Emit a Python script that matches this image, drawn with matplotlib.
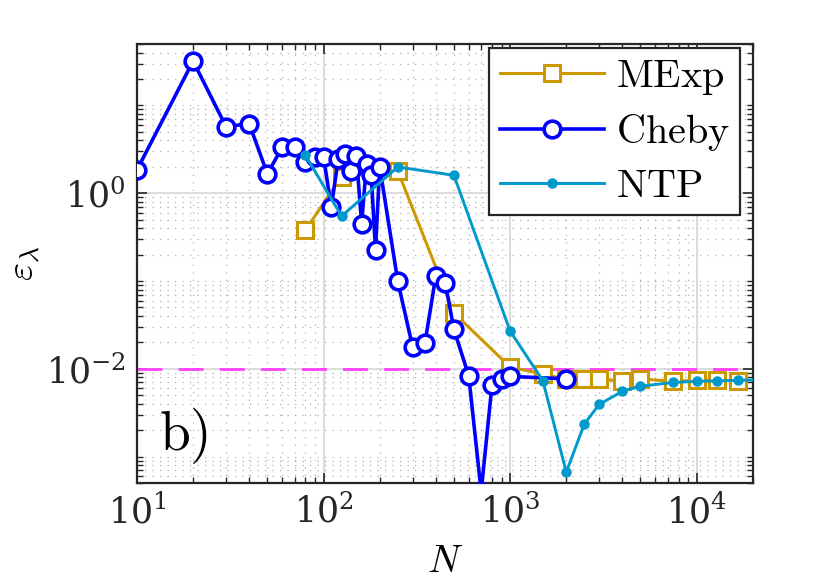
import numpy as np
import matplotlib
matplotlib.use("Agg")
import matplotlib.pyplot as plt
from matplotlib.ticker import LogLocator, NullFormatter, FixedLocator

plt.rcParams["mathtext.fontset"] = "cm"
plt.rcParams["font.family"] = ["DejaVu Serif"]

# Cheby
n_cheby = [10, 20, 30, 40, 50, 60, 70, 80, 90, 100,
           110, 120, 130, 140, 150, 160, 170, 180, 190, 200,
           250, 300, 350, 400, 450, 500, 600, 700, 800, 900, 1000, 2000]
err_cheby = [1.84, 32.0, 5.75, 6.17, 1.66, 3.32, 3.32, 2.29, 2.61, 2.61,
             0.69, 2.45, 2.80, 1.78, 2.68, 0.45, 2.15, 1.63, 0.228, 2.01,
             0.0998, 0.0179, 0.0199, 0.1146, 0.094, 0.0281, 0.00837, 4e-4,
             0.0066, 0.00766, 0.0082, 0.0077]

# MExp
n_mexp = [80, 125, 250, 500, 1000, 1500, 2000, 2500, 3000, 4000, 5000,
          7500, 10000, 12900, 16600]
err_mexp = [0.38, 1.55, 1.80, 0.0433, 0.0105, 0.0087, 0.0076, 0.0077, 0.0076,
            0.0073, 0.0077, 0.0072, 0.0074, 0.0074, 0.0073]

# NTP
n_ntp = [80, 125, 250, 500, 1000, 1500, 2000, 2500, 3000, 4000, 5000,
         7500, 10000, 12900, 16600, 25000]
err_ntp = [2.70, 0.548, 1.99, 1.60, 0.027, 0.0073, 6.65e-4, 0.00235, 0.00393,
           0.00556, 0.00634, 0.0070, 0.00721, 0.0073, 0.0074, 0.0075]

tol = 1e-2

c_mexp = (0.8, 0.6, 0.0)
c_cheby = (0.0, 0.0, 1.0)
c_ntp = (0.0, 0.6, 0.8)

fig = plt.figure(figsize=(8.3, 5.87), dpi=100)
ax = fig.add_axes([0.165, 0.177, 0.742, 0.748])

ax.axhline(tol, color=(1.0, 0.25, 1.0), lw=2, ls=(0, (9, 5.8)), zorder=2)
ax.plot(n_mexp, err_mexp, "-s", color=c_mexp, lw=2.2, ms=11.5, mfc="white",
        mec=c_mexp, mew=2.2, label=r"$\mathrm{MExp}$", zorder=3)
ax.plot(n_cheby, err_cheby, "-o", color=c_cheby, lw=2.6, ms=12, mfc="white",
        mec=c_cheby, mew=2.6, label=r"$\mathrm{Cheby}$", zorder=4)
ax.plot(n_ntp, err_ntp, "-o", color=c_ntp, lw=2.1, ms=6.5, mfc=c_ntp, mec=c_ntp,
        label=r"$\mathrm{NTP}$", zorder=5)

ax.set_xscale("log")
ax.set_yscale("log")
ax.set_xlim(10, 2e4)
ax.set_ylim(5e-4, 50)

ax.xaxis.set_major_locator(FixedLocator([1e1, 1e2, 1e3, 1e4]))
ax.yaxis.set_major_locator(FixedLocator([1e-2, 1e0]))
ax.xaxis.set_minor_locator(LogLocator(base=10, subs=np.arange(1, 10), numticks=30))
ax.yaxis.set_minor_locator(LogLocator(base=10, subs=np.arange(1, 10), numticks=30))
ax.xaxis.set_minor_formatter(NullFormatter())
ax.yaxis.set_minor_formatter(NullFormatter())

ax.tick_params(which="both", direction="in", top=True, right=True,
               colors="#262626", labelcolor="#262626")
ax.tick_params(which="major", length=7, width=1.2, labelsize=25, pad=8)
ax.tick_params(which="minor", length=4, width=1.0)
for s in ax.spines.values():
    s.set_linewidth(1.6)
    s.set_color("#262626")

ax.grid(which="major", color="#d4d4d4", lw=1.2, ls="-")
ax.grid(which="minor", color="#b0b0b0", lw=0.9, ls=(0, (1, 5)))
ax.set_axisbelow(True)

ax.set_xlabel(r"$N$", fontsize=28, labelpad=9)
ax.set_ylabel(r"$\varepsilon_\lambda$", fontsize=28, labelpad=2)

ax.text(0.035, 0.075, r"$\mathrm{b)}$", transform=ax.transAxes, fontsize=40,
        color="k", ha="left", va="baseline")

leg = ax.legend(loc="upper right", bbox_to_anchor=(0.98, 0.992),
                fontsize=29, handlelength=2.6,
                fancybox=False, framealpha=1, edgecolor="#262626",
                borderpad=0.25, labelspacing=0.38, handletextpad=0.3,
                borderaxespad=0)
leg.get_frame().set_linewidth(1.6)

fig.savefig("out.png", dpi=100)
